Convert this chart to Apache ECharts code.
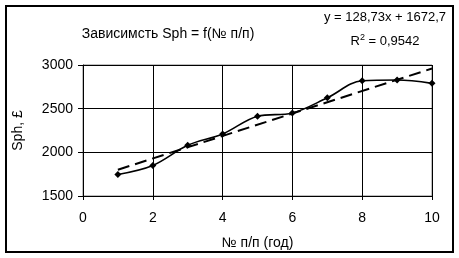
<!DOCTYPE html>
<html><head><meta charset="utf-8">
<script src="https://cdn.jsdelivr.net/npm/echarts@6/dist/echarts.min.js"></script>
<style>html,body{margin:0;padding:0;background:#fff}#c{width:459px;height:258px}</style>
</head><body><div id="c"></div>
<script>
const xValues = [1,2,3,4,5,6,7,8,9,10];
const sphValues = [1747,1850,2080,2210,2414,2450,2624,2820,2828,2790];
const trendX = [1,10];
const trendY = [1801,2960];
const titleText = 'Зависимсть Sph = f(№ п/п)';
const eqText = 'y = 128,73x + 1672,7';
const xName = '№ п/п (год)';
const yName = 'Sph, £';
const F = '"Liberation Sans", Arial, sans-serif';
const FS = 14;
const chart = echarts.init(document.getElementById('c'));
chart.setOption({
  animation:false,
  backgroundColor:'#fff',
  grid:{left:83,top:65,right:27,bottom:62,show:true,borderColor:'#808080',borderWidth:1},
  xAxis:{type:'value',min:0,max:10,interval:2,
    axisLine:{show:true,onZero:false,lineStyle:{color:'#000',width:1}},
    axisTick:{show:true,length:4,lineStyle:{color:'#000'}},
    axisLabel:{color:'#000',fontFamily:F,fontSize:FS,margin:15,formatter:v=>String(v)},
    splitLine:{show:true,lineStyle:{color:'#000',width:1}},
    name:xName,nameLocation:'middle',nameGap:40,nameTextStyle:{color:'#000',fontFamily:F,fontSize:FS}},
  yAxis:{type:'value',min:1500,max:3000,interval:500,
    axisLine:{show:true,lineStyle:{color:'#000',width:1}},
    axisTick:{show:true,length:5,lineStyle:{color:'#000'}},
    axisLabel:{color:'#000',fontFamily:F,fontSize:FS,margin:10,formatter:v=>String(v)},
    splitLine:{show:true,lineStyle:{color:'#000',width:1}},
    name:yName,nameLocation:'middle',nameGap:58,nameTextStyle:{color:'#000',fontFamily:F,fontSize:FS}},
  graphic:[
    {type:'rect',shape:{x:6,y:6,width:447,height:246},style:{fill:null,stroke:'#000',lineWidth:2},silent:true},
    {type:'text',x:168,y:34,style:{text:titleText,fill:'#000',font:FS+'px '+F,textAlign:'center',textVerticalAlign:'middle'}},
    {type:'text',x:385,y:17,style:{text:eqText,fill:'#000',font:'13px '+F,textAlign:'center',textVerticalAlign:'middle'}},
    {type:'text',x:385,y:41,style:{rich:{a:{fontSize:13,fontFamily:F,fill:'#000'},s:{fontSize:9,fontFamily:F,fill:'#000',verticalAlign:'top',padding:[0,0,6,0]}},text:'{a|R}{s|2}{a| = 0,9542}',textAlign:'center',textVerticalAlign:'middle'}}
  ],
  series:[
    {type:'line',data:xValues.map((x,i)=>[x,sphValues[i]]),smooth:0.35,
      symbol:'diamond',symbolSize:7,itemStyle:{color:'#000'},lineStyle:{color:'#000',width:1.6},z:3},
    {type:'line',data:trendX.map((x,i)=>[x,trendY[i]]),symbol:'none',
      lineStyle:{color:'#000',width:2,type:[12,6]},z:2}
  ]
});
</script></body></html>
